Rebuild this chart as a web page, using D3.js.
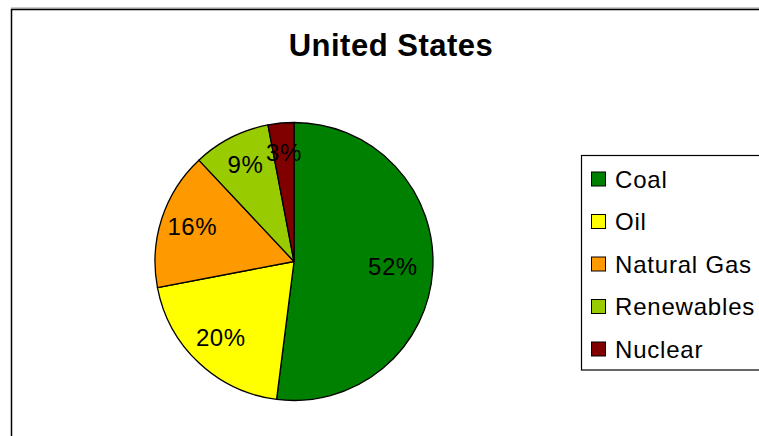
<!DOCTYPE html>
<html>
<head>
<meta charset="utf-8">
<script src="https://cdn.jsdelivr.net/npm/d3@7"></script>
<style>
  html, body { margin: 0; padding: 0; background: #ffffff; }
  svg { display: block; }
  text { font-family: "Liberation Sans", Arial, sans-serif; fill: #000; }
</style>
</head>
<body>
<svg id="chart" width="759" height="436"></svg>
<script>
// Energy mix, United States (percent of total)
const categories = ["Coal", "Oil", "Natural Gas", "Renewables", "Nuclear"];
const shares = [52, 20, 16, 9, 3];
const colors = ["#008000", "#FFFF00", "#FF9900", "#99CC00", "#800000"];
const chartTitle = "United States";

const svg = d3.select("#chart");
const W = 759, H = 436;

svg.append("rect").attr("width", W).attr("height", H).attr("fill", "#fff");

// outer chart frame (runs off the right and bottom edges)
svg.append("line").attr("x1", 11).attr("x2", W).attr("y1", 8).attr("y2", 8)
  .attr("stroke", "#999").attr("stroke-width", 1);
svg.append("rect")
  .attr("x", 11.5).attr("y", 9.5).attr("width", 900).attr("height", 600)
  .attr("fill", "none").attr("stroke", "#000").attr("stroke-width", 1.5);

// title
svg.append("text")
  .attr("x", 391).attr("y", 56)
  .attr("text-anchor", "middle")
  .style("font-size", "31px").style("font-weight", "bold")
  .style("letter-spacing", "0.5px")
  .text(chartTitle);

// pie
const cx = 294, cy = 261.5, R = 139;
const data = categories.map((c, i) => ({ name: c, value: shares[i], color: colors[i] }));
const pie = d3.pie().value(d => d.value).sort(null).startAngle(0).endAngle(2 * Math.PI);
const arcs = pie(data);
const arc = d3.arc().innerRadius(0).outerRadius(R);
const labelArc = d3.arc().innerRadius(R * 0.77).outerRadius(R * 0.77);
const total = d3.sum(shares);

const g = svg.append("g").attr("transform", `translate(${cx},${cy})`);
g.selectAll("path.slice").data(arcs).join("path")
  .attr("class", "slice")
  .attr("d", arc)
  .attr("fill", d => d.data.color)
  .attr("stroke", "#000")
  .attr("stroke-width", 1.3)
  .attr("stroke-linejoin", "round");

g.selectAll("text.pct").data(arcs).join("text")
  .attr("class", "pct")
  .attr("transform", d => {
    const [x, y] = labelArc.centroid(d);
    // the widest slice keeps its label pulled a little toward the middle
    const pull = d.data.value / total > 0.5 ? -8 : 0;
    return `translate(${x + pull},${y - 2})`;
  })
  .attr("text-anchor", "middle")
  .attr("dominant-baseline", "central")
  .style("font-size", "24px")
  .style("letter-spacing", "0.5px")
  .text(d => Math.round(d.data.value / total * 100) + "%");

// legend
const legend = svg.append("g");
legend.append("rect")
  .attr("x", 581.5).attr("y", 155.5).attr("width", 220).attr("height", 214.5)
  .attr("fill", "#fff").attr("stroke", "#000").attr("stroke-width", 1.2);

const rowY = d3.scalePoint().domain(categories).range([179, 349]);
const items = legend.selectAll("g.item").data(data).join("g")
  .attr("class", "item")
  .attr("transform", d => `translate(0,${rowY(d.name)})`);
items.append("rect")
  .attr("x", 591.5).attr("y", -7).attr("width", 14).attr("height", 14)
  .attr("fill", d => d.color).attr("stroke", "#000").attr("stroke-width", 1);
items.append("text")
  .attr("x", 615).attr("y", 8.5)
  .style("font-size", "24px")
  .style("letter-spacing", "0.8px")
  .text(d => d.name);
</script>
</body>
</html>
